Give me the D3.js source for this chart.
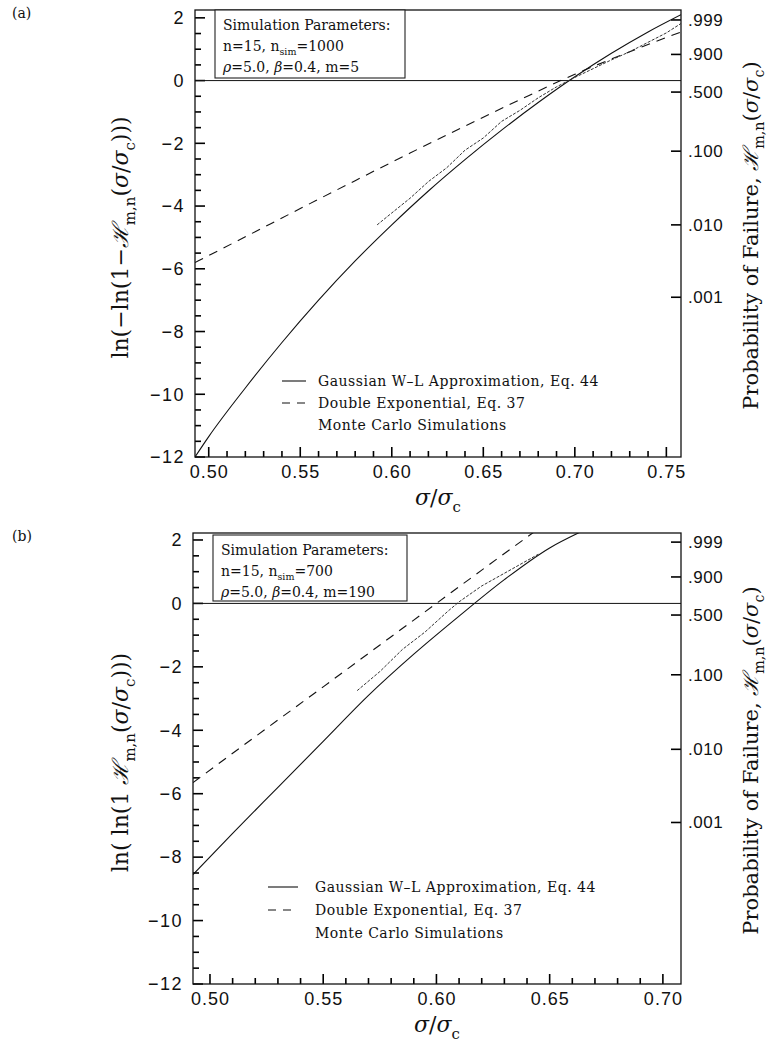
<!DOCTYPE html>
<html>
<head>
<meta charset="utf-8">
<script src="https://cdn.jsdelivr.net/npm/d3@7"></script>
<style>
  body { margin: 0; background: #fff; }
  text { fill: #111; }
</style>
</head>
<body>
<div id="sandbox"></div>
<script>
// Values: [sigma/sigma_c, ln(-ln(1-H))]

// panel (a)
var gaussA = [[0.4925,-12.0],[0.50,-11.35],[0.52,-9.80],[0.54,-8.35],[0.56,-7.00],[0.58,-5.75],
              [0.60,-4.60],[0.62,-3.52],[0.64,-2.52],[0.66,-1.58],[0.68,-0.70],[0.70,0.12],
              [0.72,0.87],[0.74,1.55],[0.758,2.10]];
var dexpA  = [[0.4925,-5.80],[0.52,-4.98],[0.55,-4.08],[0.58,-3.19],[0.61,-2.31],[0.64,-1.45],
              [0.67,-0.61],[0.70,0.20],[0.73,0.92],[0.758,1.55]];
var mcA    = [[0.592,-4.60],[0.600,-4.22],[0.610,-3.75],[0.620,-3.22],[0.630,-2.78],[0.640,-2.22],
              [0.650,-1.83],[0.660,-1.30],[0.670,-0.95],[0.680,-0.55],[0.690,-0.20],[0.700,0.10],
              [0.710,0.38],[0.720,0.66],[0.730,0.92],[0.740,1.22],[0.750,1.52],[0.758,1.82]];

// panel (b)
var gaussB = [[0.4925,-8.55],[0.51,-7.25],[0.53,-5.80],[0.55,-4.35],[0.57,-2.90],[0.59,-1.60],
              [0.61,-0.40],[0.63,0.75],[0.65,1.75],[0.665,2.30]];
var dexpB  = [[0.4925,-5.65],[0.52,-4.20],[0.55,-2.63],[0.58,-1.05],[0.60,0.00],[0.62,1.05],[0.645,2.35]];
var mcB    = [[0.565,-2.75],[0.575,-2.15],[0.585,-1.45],[0.595,-0.90],[0.605,-0.25],[0.610,0.05],
              [0.620,0.55],[0.630,0.95],[0.640,1.35],[0.645,1.55]];

// ticks
var yTicks = [2, 0, -2, -4, -6, -8, -10, -12];
var yMinor = d3.range(-12, 2.01, 0.5);
var xTicksA = [0.50, 0.55, 0.60, 0.65, 0.70, 0.75];
var xTicksB = [0.50, 0.55, 0.60, 0.65, 0.70];
var probTicks = [0.999, 0.900, 0.500, 0.100, 0.010, 0.001];
var probLabels = ['.999', '.900', '.500', '.100', '.010', '.001'];

var legendNames = ['Gaussian W\u2013L Approximation, Eq. 44', 'Double Exponential, Eq. 37', 'Monte Carlo Simulations'];

var serif = '"DejaVu Serif", serif';
var sans = '"Liberation Sans", Arial, sans-serif';

var svg = d3.select('#sandbox').append('svg')
    .attr('width', 771)
    .attr('height', 1048);

// text made of pieces; sub pieces go down and come back
function richText(sel, parts, size) {
  var shift = 0;
  parts.forEach(function(p) {
    var t = sel.append('tspan').text(p.t);
    var want = p.sub ? size * 0.3 : 0;
    if (want !== shift) { t.attr('dy', want - shift); shift = want; }
    if (p.sub) t.attr('font-size', size * 0.68);
    if (p.it) t.attr('font-style', 'italic');
  });
}

function drawPanel(p) {
  var x = d3.scaleLinear().domain(p.xDomain).range([p.left, p.right]);
  var y = d3.scaleLinear().domain([-12, p.yTop]).range([p.bottom, p.top]);
  var g = svg.append('g');

  // clip
  g.append('clipPath').attr('id', 'clip' + p.id)
    .append('rect')
    .attr('x', p.left).attr('y', p.top)
    .attr('width', p.right - p.left).attr('height', p.bottom - p.top);

  // axes give the labels, tick marks drawn by hand (inward)
  var yl = g.append('g')
    .attr('transform', 'translate(' + p.left + ',0)')
    .call(d3.axisLeft(y).tickValues(yTicks).tickSize(0).tickPadding(10)
      .tickFormat(function(d) { return d < 0 ? '\u2212' + (-d) : d; }));
  yl.selectAll('text').attr('font-family', sans).attr('font-size', 18).attr('letter-spacing', 1.5).attr('fill', '#333');

  var xl = g.append('g')
    .attr('transform', 'translate(0,' + p.bottom + ')')
    .call(d3.axisBottom(x).tickValues(p.xTicks).tickSize(0).tickPadding(8).tickFormat(d3.format('.2f')));
  xl.selectAll('text').attr('font-family', sans).attr('font-size', 18).attr('letter-spacing', 1).attr('fill', '#333');

  var probY = probTicks.map(function(q) { return Math.log(-Math.log(1 - q)); });
  var yr = g.append('g')
    .attr('transform', 'translate(' + p.right + ',0)')
    .call(d3.axisRight(y).tickValues(probY).tickSize(0).tickPadding(7)
      .tickFormat(function(d, i) { return probLabels[i]; }));
  yr.selectAll('text').attr('font-family', sans).attr('font-size', 17).attr('letter-spacing', 0.5).attr('fill', '#333');
  g.selectAll('.domain').remove();

  var ticks = g.append('g').attr('stroke', '#000').attr('stroke-width', 1.6);
  ticks.selectAll('.ty').data(yMinor).enter().append('line')
    .attr('x1', p.left).attr('x2', function(d) { return p.left + (d % 2 === 0 ? 10 : 6); })
    .attr('y1', function(d) { return y(d); }).attr('y2', function(d) { return y(d); });
  ticks.selectAll('.tx').data(d3.range(50, Math.floor(p.xDomain[1] * 100) + 1)).enter().append('line')
    .attr('x1', function(d) { return x(d / 100); }).attr('x2', function(d) { return x(d / 100); })
    .attr('y1', p.bottom).attr('y2', function(d) { return p.bottom - (d % 5 === 0 ? 10 : 6); });
  ticks.selectAll('.tr').data(probY).enter().append('line')
    .attr('x1', p.right).attr('x2', p.right - 10)
    .attr('y1', function(d) { return y(d); }).attr('y2', function(d) { return y(d); });

  // frame
  g.append('rect')
    .attr('x', p.left).attr('y', p.top)
    .attr('width', p.right - p.left).attr('height', p.bottom - p.top)
    .attr('fill', 'none').attr('stroke', '#111').attr('stroke-width', 1.3);

  // zero line
  g.append('line')
    .attr('x1', p.left).attr('x2', p.right)
    .attr('y1', y(0)).attr('y2', y(0))
    .attr('stroke', '#111').attr('stroke-width', 1);

  var line = d3.line()
    .x(function(d) { return x(d[0]); })
    .y(function(d) { return y(d[1]); })
    .curve(d3.curveMonotoneX);

  var curves = g.append('g').attr('clip-path', 'url(#clip' + p.id + ')');
  curves.append('path').datum(p.gauss)
    .attr('d', line).attr('fill', 'none').attr('stroke', '#111').attr('stroke-width', 1.1);
  curves.append('path').datum(p.dexp)
    .attr('d', line).attr('fill', 'none').attr('stroke', '#111').attr('stroke-width', 1.1)
    .attr('stroke-dasharray', '9,7');
  curves.append('path').datum(p.mc)
    .attr('d', d3.line().x(function(d) { return x(d[0]); }).y(function(d) { return y(d[1]); }))
    .attr('fill', 'none').attr('stroke', '#333').attr('stroke-width', 1)
    .attr('stroke-dasharray', '3,1.5');

  // parameters box
  var b = p.box;
  g.append('rect')
    .attr('x', b.x).attr('y', b.y).attr('width', b.w).attr('height', b.h)
    .attr('fill', '#fff').attr('stroke', '#222').attr('stroke-width', 1.1);
  var t1 = g.append('text').attr('x', b.x + 8).attr('y', b.y + 20)
    .attr('font-family', serif).attr('font-size', 14);
  t1.text('Simulation Parameters:');
  var t2 = g.append('text').attr('x', b.x + 8).attr('y', b.y + 41)
    .attr('font-family', serif).attr('font-size', 14);
  richText(t2, [{t: 'n=15,  n'}, {t: 'sim', sub: true}, {t: '=' + p.nsim}], 14);
  var t3 = g.append('text').attr('x', b.x + 8).attr('y', b.y + 62)
    .attr('font-family', serif).attr('font-size', 14);
  richText(t3, [{t: '\u03C1', it: true}, {t: '=5.0,  '}, {t: '\u03B2', it: true}, {t: '=0.4,  m=' + p.m}], 14);

  // legend
  var L = p.legend;
  legendNames.forEach(function(name, i) {
    var ly = L.y + i * L.dy;
    if (i < 2) {
      g.append('line')
        .attr('x1', L.x1).attr('x2', L.x2).attr('y1', ly).attr('y2', ly)
        .attr('stroke', '#111').attr('stroke-width', 1.1)
        .attr('stroke-dasharray', i === 1 ? '8,7' : null);
    }
    g.append('text').attr('x', L.tx).attr('y', ly + 5)
      .attr('font-family', serif).attr('font-size', 14).attr('letter-spacing', 0.5)
      .text(name);
  });

  // panel tag
  g.append('text').attr('x', 12).attr('y', p.top + 8)
    .attr('font-family', serif).attr('font-size', 14).text(p.tag);

  // x title
  var xt = g.append('text')
    .attr('x', (p.left + p.right) / 2).attr('y', p.bottom + 48)
    .attr('text-anchor', 'middle').attr('font-family', serif).attr('font-size', 22);
  richText(xt, [{t: '\u03C3', it: true}, {t: '/'}, {t: '\u03C3', it: true}, {t: 'c', sub: true}], 22);

  // left title
  var lt = g.append('text')
    .attr('transform', 'translate(' + p.ltx + ',' + ((p.top + p.bottom) / 2 + 4) + ') rotate(-90)')
    .attr('text-anchor', 'middle').attr('font-family', serif).attr('font-size', 22);
  richText(lt, p.ltitle, 22);

  // right title
  var rt = g.append('text')
    .attr('transform', 'translate(758,' + ((p.top + p.bottom) / 2 + 2) + ') rotate(-90)')
    .attr('text-anchor', 'middle').attr('font-family', serif).attr('font-size', 21);
  richText(rt, [{t: 'Probability of Failure,  '}, {t: '\u210B', it: true}, {t: 'm,n', sub: true},
                {t: '('}, {t: '\u03C3', it: true}, {t: '/'}, {t: '\u03C3', it: true}, {t: 'c', sub: true}, {t: ')'}], 21);
}

drawPanel({
  id: 'a', tag: '(a)',
  left: 195, right: 681, top: 10, bottom: 457,
  xDomain: [0.4925, 0.758], yTop: 2.25, xTicks: xTicksA,
  gauss: gaussA, dexp: dexpA, mc: mcA,
  box: {x: 215, y: 10, w: 190, h: 68}, nsim: 1000, m: 5,
  legend: {x1: 282, x2: 306, tx: 318, y: 381, dy: 22},
  ltx: 128,
  ltitle: [{t: 'ln(\u2212ln(1\u2212'}, {t: '\u210B', it: true}, {t: 'm,n', sub: true},
           {t: '('}, {t: '\u03C3', it: true}, {t: '/'}, {t: '\u03C3', it: true}, {t: 'c', sub: true}, {t: ')))'}]
});

drawPanel({
  id: 'b', tag: '(b)',
  left: 193, right: 681, top: 533, bottom: 984,
  xDomain: [0.4925, 0.708], yTop: 2.22, xTicks: xTicksB,
  gauss: gaussB, dexp: dexpB, mc: mcB,
  box: {x: 213, y: 535, w: 194, h: 66}, nsim: 700, m: 190,
  legend: {x1: 268, x2: 298, tx: 315, y: 887, dy: 23},
  ltx: 128,
  ltitle: [{t: 'ln(  ln(1  '}, {t: '\u210B', it: true}, {t: 'm,n', sub: true},
           {t: '('}, {t: '\u03C3', it: true}, {t: '/'}, {t: '\u03C3', it: true}, {t: 'c', sub: true}, {t: ')))'}]
});
</script>
</body>
</html>
